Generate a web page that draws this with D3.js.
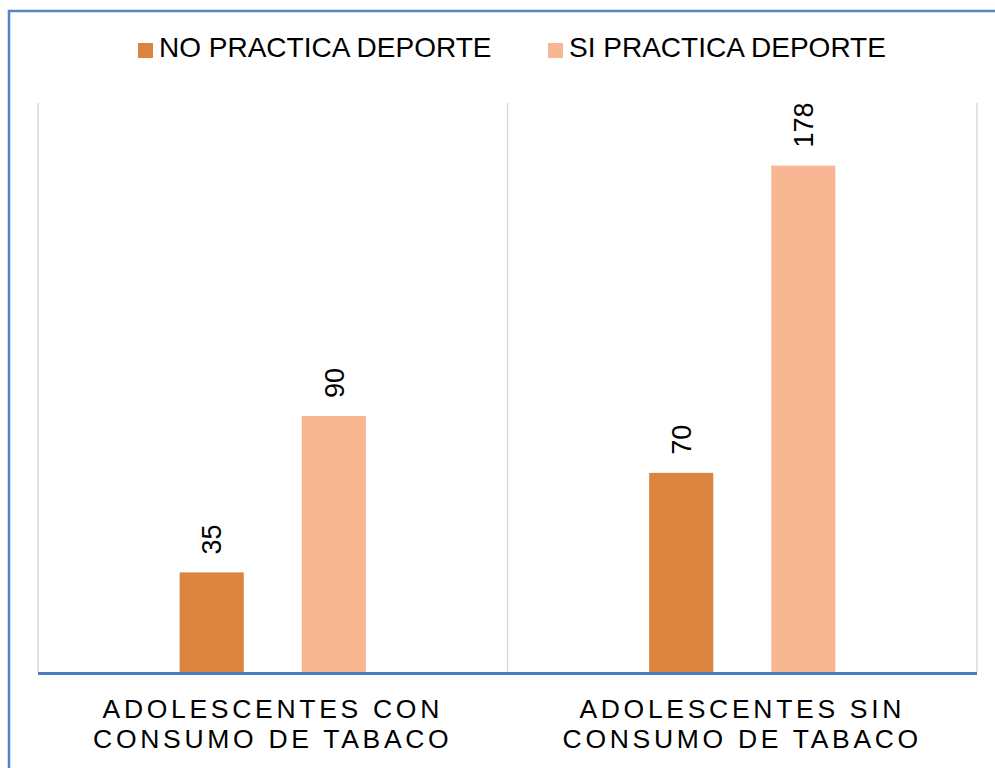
<!DOCTYPE html>
<html>
<head>
<meta charset="utf-8">
<script src="https://cdn.jsdelivr.net/npm/d3@7"></script>
<style>
  html, body { margin: 0; padding: 0; background: #fff; }
  svg { display: block; font-family: "Liberation Sans", Arial, sans-serif; }
</style>
</head>
<body>
<svg id="chart" width="995" height="768"></svg>
<script>
// Data
const categories = [
  ["ADOLESCENTES CON", "CONSUMO DE TABACO"],
  ["ADOLESCENTES SIN", "CONSUMO DE TABACO"]
];
const seriesNames = ["NO PRACTICA DEPORTE", "SI PRACTICA DEPORTE"];
const noPractica = [35, 70];
const siPractica = [90, 178];
const seriesColors = ["#DB843F", "#F8B692"];

const svg = d3.select("#chart");
const W = 995, H = 768;

// Frame
svg.append("rect")
  .attr("x", 9).attr("y", 11)
  .attr("width", W + 20).attr("height", H + 20)
  .attr("fill", "#fff")
  .attr("stroke", "#5585C5")
  .attr("stroke-width", 2.5);

// Plot area
const plot = { left: 38, right: 977, top: 103, bottom: 672 };

const x0 = d3.scaleBand()
  .domain(d3.range(categories.length))
  .range([plot.left, plot.right])
  .padding(0);

const x1 = d3.scaleBand()
  .domain(d3.range(seriesNames.length))
  .range([0, x0.bandwidth()])
  .paddingInner(0.475)
  .paddingOuter(1.16);

const y = d3.scaleLinear().domain([0, 200]).range([plot.bottom, plot.top]);

// Vertical category separators
const gridX = d3.range(categories.length + 1).map(i =>
  i < categories.length ? x0(i) : x0(i - 1) + x0.bandwidth());
svg.append("g").selectAll("line").data(gridX).join("line")
  .attr("x1", d => d).attr("x2", d => d)
  .attr("y1", plot.top).attr("y2", plot.bottom)
  .attr("stroke", "#D9D9D9").attr("stroke-width", 1.5);

// Bars
const seriesValues = [noPractica, siPractica];
const rows = [];
categories.forEach((c, ci) => {
  seriesValues.forEach((vals, si) => rows.push({ ci, si, v: vals[ci] }));
});

svg.append("g").selectAll("rect").data(rows).join("rect")
  .attr("x", d => x0(d.ci) + x1(d.si))
  .attr("y", d => y(d.v))
  .attr("width", x1.bandwidth())
  .attr("height", d => y(0) - y(d.v))
  .attr("fill", d => seriesColors[d.si]);

// Value labels (rotated)
svg.append("g").selectAll("text").data(rows).join("text")
  .attr("transform", d => {
    const cx = x0(d.ci) + x1(d.si) + x1.bandwidth() / 2;
    return `translate(${cx},${y(d.v) - 18}) rotate(-90)`;
  })
  .attr("dy", "0.36em")
  .attr("text-anchor", "start")
  .attr("font-size", 27)
  .attr("fill", "#000")
  .text(d => d.v);

// Baseline axis
svg.append("line")
  .attr("x1", plot.left).attr("x2", plot.right)
  .attr("y1", y(0) + 1.5).attr("y2", y(0) + 1.5)
  .attr("stroke", "#4A7EBB").attr("stroke-width", 3);

// Category labels
const catG = svg.append("g").selectAll("text").data(categories).join("text")
  .attr("text-anchor", "middle")
  .attr("font-size", 26.5)
  .attr("letter-spacing", 3.7)
  .attr("fill", "#000");
catG.selectAll("tspan").data(d => d).join("tspan")
  .attr("x", function() {
    const ci = categories.indexOf(d3.select(this.parentNode).datum());
    return x0(ci) + x0.bandwidth() / 2;
  })
  .attr("y", (d, i) => 718 + i * 30)
  .text(d => d);

// Legend
const legendItems = [
  { name: seriesNames[0], color: seriesColors[0], x: 138 },
  { name: seriesNames[1], color: seriesColors[1], x: 548 }
];
const lg = svg.append("g").selectAll("g").data(legendItems).join("g")
  .attr("transform", d => `translate(${d.x},0)`);
lg.append("rect")
  .attr("x", 0).attr("y", 43).attr("width", 15).attr("height", 15)
  .attr("fill", d => d.color);
lg.append("text")
  .attr("x", 21).attr("y", 57)
  .attr("font-size", 28)
  .attr("fill", "#000")
  .text(d => d.name);
</script>
</body>
</html>
